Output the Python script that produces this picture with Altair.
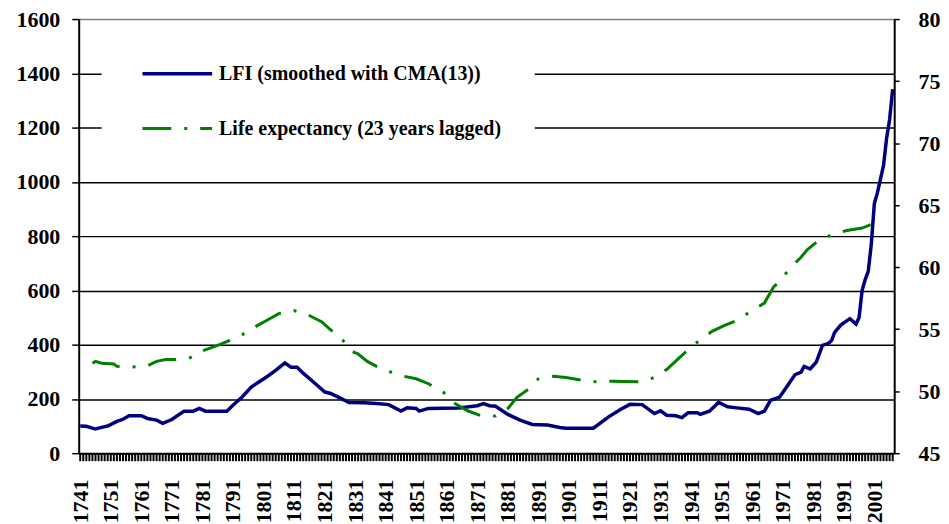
import altair as alt
import pandas as pd

# ---------------- data ----------------
lfi_years = [1741, 1743, 1746, 1748, 1750, 1753, 1755, 1757, 1761, 1763, 1766, 1768,
             1771, 1775, 1778, 1780, 1782, 1789, 1791, 1794, 1797, 1802, 1805, 1808,
             1810, 1812, 1814, 1818, 1821, 1823, 1826, 1829, 1834, 1838, 1842, 1846,
             1848, 1851, 1852, 1855, 1865, 1871, 1873, 1875, 1877, 1881, 1885, 1889,
             1894, 1898, 1900, 1909, 1914, 1918, 1921, 1925, 1929, 1931, 1933, 1936,
             1938, 1940, 1943, 1944, 1947, 1950, 1953, 1956, 1960, 1963, 1965, 1967,
             1970, 1973, 1975, 1977, 1978, 1980, 1982, 1984, 1986, 1987, 1988, 1990,
             1993, 1995, 1996, 1997, 1998, 1999, 2000, 2001, 2002, 2003, 2004, 2005,
             2006, 2007]
lfi_values = [100, 99, 89, 95, 100, 117, 125, 138, 138, 128, 122, 110,
              124, 155, 155, 165, 155, 155, 177, 207, 244, 281, 305, 333,
              317, 317, 295, 256, 226, 220, 204, 187, 186, 183, 179, 155,
              167, 165, 155, 165, 167, 175, 183, 175, 173, 143, 122, 106,
              104, 95, 92, 92, 134, 162, 180, 179, 146, 156, 140, 138,
              131, 149, 149, 143, 155, 187, 171, 167, 162, 146, 155, 195,
              207, 256, 289, 299, 320, 311, 336, 397, 405, 415, 445, 472,
              496, 476, 500, 600, 640, 670, 770, 920, 960, 1010, 1060, 1160,
              1230, 1342]

le_years = [1745, 1746, 1748, 1752, 1753, 1758, 1763, 1766, 1769, 1772, 1777, 1781,
            1786, 1790, 1794, 1798, 1802, 1806, 1811, 1816, 1820, 1823, 1827, 1830,
            1832, 1835, 1838, 1842, 1847, 1851, 1855, 1860, 1863, 1868, 1872, 1877,
            1881, 1884, 1888, 1891, 1896, 1900, 1905, 1910, 1915, 1924, 1929, 1933,
            1940, 1944, 1948, 1952, 1956, 1960, 1965, 1968, 1970, 1973, 1977, 1979,
            1983, 1988, 1992, 1997, 2001]
le_values = [52.25, 52.4, 52.25, 52.2, 52.0, 51.95, 52.05, 52.4, 52.55, 52.55, 52.7, 53.25,
             53.7, 54.1, 54.55, 55.15, 55.7, 56.25, 56.5, 56.1, 55.6, 54.95, 54.1, 53.2,
             53.0, 52.4, 52.0, 51.6, 51.2, 51.0, 50.6, 49.9, 49.1, 48.4, 48.05, 48.0,
             48.6, 49.5, 50.2, 51.0, 51.2, 51.1, 50.9, 50.75, 50.8, 50.75, 51.1, 51.75,
             53.35, 54.15, 54.85, 55.3, 55.7, 56.35, 57.1, 58.4, 58.85, 59.8, 60.8, 61.4,
             62.2, 62.7, 62.95, 63.15, 63.55]

year_ticks = list(range(1741, 2008))
left_ticks = [0, 200, 400, 600, 800, 1000, 1200, 1400, 1600]
right_ticks = [45, 50, 55, 60, 65, 70, 75, 80]
legend_labels = ["LFI (smoothed with CMA(13))", "Life expectancy (23 years lagged)"]

BLUE = "#000080"
GREEN = "#008000"
FONT = "Liberation Serif"
DASH = [29, 13, 3, 13]

lfi_df = pd.DataFrame({"year": lfi_years, "lfi": lfi_values})
le_df = pd.DataFrame({"year": le_years, "le": le_values})
tick_df = pd.DataFrame({"year": year_ticks})
one = pd.DataFrame({"k": [0]})

x_axis = alt.Axis(
    values=year_ticks,
    labelExpr="(datum.value - 1741) % 10 == 0 ? '' + datum.value : ''",
    labelAngle=270,
    labelOverlap=False,
    labelFlush=False,
    labelFont=FONT,
    labelFontSize=22,
    labelFontWeight="bold",
    labelColor="black",
    labelPadding=26,
    ticks=False,
    domainColor="black",
    domainWidth=2,
    grid=False,
    title=None,
)
x_scale = alt.Scale(domain=[1740.5, 2007.5], nice=False, zero=False)

lfi_line = alt.Chart(lfi_df).mark_line(color=BLUE, strokeWidth=3.5).encode(
    x=alt.X("year:Q", scale=x_scale, axis=x_axis),
    y=alt.Y(
        "lfi:Q",
        scale=alt.Scale(domain=[0, 1600], nice=False),
        axis=alt.Axis(
            values=left_ticks,
            format="d",
            orient="left",
            grid=True,
            gridColor={"condition": {"test": "datum.value == 1600", "value": "#808080"},
                       "value": "black"},
            gridWidth=1.5,
            labelFont=FONT,
            labelFontSize=22,
            labelFontWeight="bold",
            labelColor="black",
            labelPadding=12,
            ticks=True,
            tickSize=7,
            tickWidth=1.5,
            tickColor="black",
            domainColor="black",
            domainWidth=2,
            title=None,
        ),
    ),
)

le_line = alt.Chart(le_df).mark_line(color=GREEN, strokeWidth=3, strokeDash=DASH).encode(
    x=alt.X("year:Q", scale=x_scale, axis=x_axis),
    y=alt.Y(
        "le:Q",
        scale=alt.Scale(domain=[45, 80], nice=False, zero=False),
        axis=alt.Axis(
            values=right_ticks,
            format="d",
            orient="right",
            grid=False,
            labelFont=FONT,
            labelFontSize=22,
            labelFontWeight="bold",
            labelColor="black",
            labelPadding=19,
            ticks=True,
            tickSize=5,
            tickWidth=1.5,
            tickColor="black",
            domainColor="black",
            domainWidth=2,
            title=None,
        ),
    ),
)

# comb of yearly tick marks under the x axis
comb = alt.Chart(tick_df).mark_tick(
    color="black", thickness=2, size=8, orient="vertical", clip=False, opacity=1
).encode(
    x=alt.X("year:Q", scale=x_scale, axis=x_axis),
    y=alt.value(440),
)

# ---------------- legend (drawn by hand, inside the plot) ----------------
box = alt.Chart(one).mark_rect(fill="white").encode(
    x=alt.value(23), x2=alt.value(458), y=alt.value(22), y2=alt.value(145)
)
sym1 = alt.Chart(one).mark_rule(color=BLUE, strokeWidth=3.5).encode(
    x=alt.value(64), x2=alt.value(134), y=alt.value(55)
)
sym2 = alt.Chart(one).mark_rule(color=GREEN, strokeWidth=3, strokeDash=DASH).encode(
    x=alt.value(64), x2=alt.value(134), y=alt.value(110)
)
txt1 = alt.Chart(one).mark_text(
    text=legend_labels[0], align="left", baseline="middle",
    font=FONT, fontSize=20, fontWeight="bold", color="black"
).encode(x=alt.value(141), y=alt.value(55))
txt2 = alt.Chart(one).mark_text(
    text=legend_labels[1], align="left", baseline="middle",
    font=FONT, fontSize=20, fontWeight="bold", color="black"
).encode(x=alt.value(141), y=alt.value(110))

chart = (
    alt.layer(lfi_line, le_line, comb, box, sym1, sym2, txt1, txt2)
    .resolve_scale(y="independent")
    .properties(
        width=819,
        height=436,
        autosize=alt.AutoSizeParams(type="none"),
        padding={"left": 71, "top": 10, "right": 47, "bottom": 70},
        background="white",
    )
    .configure_view(stroke=None)
)

chart.save("out.html", embed_options={"renderer": "svg", "actions": False})
